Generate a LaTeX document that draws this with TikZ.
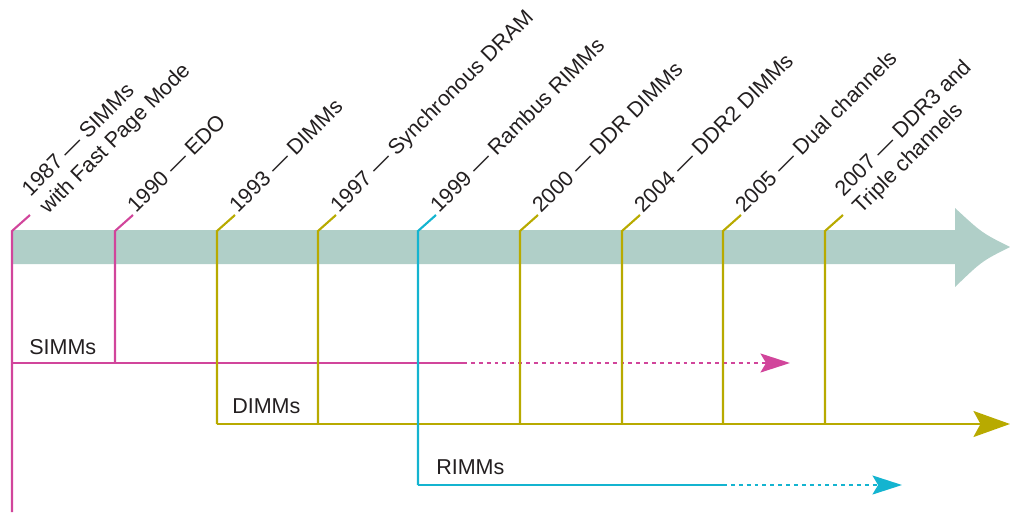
\documentclass[tikz,border=0pt]{standalone}
\usepackage{fontspec}
\setmainfont{Liberation Sans}
\usetikzlibrary{arrows.meta}

\definecolor{bandgreen}{HTML}{B0CFC8}
\definecolor{simmpink}{HTML}{D1459B}
\definecolor{dimmolive}{HTML}{B8AA00}
\definecolor{rimmcyan}{HTML}{14B4D0}
\definecolor{labelgray}{HTML}{231F20}

\tikzset{
  year/.style={rotate=45, anchor=base west, inner sep=0pt, text=labelgray,
    font=\fontsize{15.3}{17.8}\selectfont},
  twoline/.style={year, align=left},
  family/.style={anchor=base west, inner sep=0pt, text=labelgray,
    font=\fontsize{15.3}{17.8}\selectfont},
  tick/.style={line width=1.5pt},
  later/.style={line width=1.5pt, dash pattern=on 2.8pt off 2.8pt},
  smalltip/.style={-{Stealth[length=21pt, width=13.5pt, inset=4pt]}},
  bigtip/.style={-{Stealth[length=26pt, width=18.5pt, inset=5pt]}},
}

\begin{document}
\begin{tikzpicture}[x=0.025cm, y=-0.025cm]
        \useasboundingbox (0,0) rectangle (1010,512);
        %% time band
        \fill[bandgreen] (13,230) -- (955,230) -- (955,208)
            .. controls (982,233) .. (1010,247)
            .. controls (982,261) .. (955,287) -- (955,264) -- (13,264) -- cycle;
        %% ticks
        \coordinate (t1987) at (12,231);
        \coordinate (t1990) at (115,231);
        \coordinate (t1993) at (217,231);
        \coordinate (t1997) at (318,231);
        \coordinate (t1999) at (418,231);
        \coordinate (t2000) at (520,231);
        \coordinate (t2004) at (622,231);
        \coordinate (t2005) at (723,231);
        \coordinate (t2007) at (825,231);
        %% module families
        \coordinate (simms) at (12,363);
        \coordinate (dimms) at (217,424);
        \coordinate (rimms) at (418,485);
        \coordinate (simmsdot) at (463,363);
        \coordinate (simmsend) at (790,363);
        \coordinate (dimmsend) at (1010,424);
        \coordinate (rimmsdot) at (723,485);
        \coordinate (rimmsend) at (902,485);
        \coordinate (bottom) at (12,512);
        %% SIMMs
        \draw[tick,simmpink] (t1987) ++(18,-16) -- (t1987) -- (bottom);
        \draw[tick,simmpink] (t1990) ++(18,-16) -- (t1990) -- (t1990 |- simms);
        \draw[tick,simmpink] (simms) -- (simmsdot);
        \draw[later,smalltip,simmpink] (simmsdot) -- (simmsend);
        %% DIMMs
        \draw[tick,dimmolive] (t1993) ++(18,-16) -- (t1993) -- (dimms);
        \draw[tick,dimmolive] (t1997) ++(18,-16) -- (t1997) -- (t1997 |- dimms);
        \draw[tick,dimmolive] (t2000) ++(18,-16) -- (t2000) -- (t2000 |- dimms);
        \draw[tick,dimmolive] (t2004) ++(18,-16) -- (t2004) -- (t2004 |- dimms);
        \draw[tick,dimmolive] (t2005) ++(18,-16) -- (t2005) -- (t2005 |- dimms);
        \draw[tick,dimmolive] (t2007) ++(18,-16) -- (t2007) -- (t2007 |- dimms);
        \draw[tick,bigtip,dimmolive] (dimms) -- (dimmsend);
        %% RIMMs
        \draw[tick,rimmcyan] (t1999) ++(18,-16) -- (t1999) -- (rimms);
        \draw[tick,rimmcyan] (rimms) -- (rimmsdot);
        \draw[later,smalltip,rimmcyan] (rimmsdot) -- (rimmsend);
        %% labels
        \node[twoline] (l1987) at ([shift={(36,-16)}]t1987) {1987 — SIMMs\\with Fast Page Mode};
        \node[year] (l1990) at ([shift={(21,-17)}]t1990) {1990 — EDO};
        \node[year] (l1993) at ([shift={(21,-17)}]t1993) {1993 — DIMMs};
        \node[year] (l1997) at ([shift={(21,-17)}]t1997) {1997 — Synchronous DRAM};
        \node[year] (l1999) at ([shift={(21,-17)}]t1999) {1999 — Rambus RIMMs};
        \node[year] (l2000) at ([shift={(21,-17)}]t2000) {2000 — DDR DIMMs};
        \node[year] (l2004) at ([shift={(21,-17)}]t2004) {2004 — DDR2 DIMMs};
        \node[year] (l2005) at ([shift={(21,-17)}]t2005) {2005 — Dual channels};
        \node[twoline] (l2007) at ([shift={(36,-16)}]t2007) {2007 — DDR3 and\\Triple channels};
        \node[family] (lsimms) at (29,354) {SIMMs};
        \node[family] (ldimms) at (232,413) {DIMMs};
        \node[family] (lrimms) at (436,474) {RIMMs};
\end{tikzpicture}
\end{document}
